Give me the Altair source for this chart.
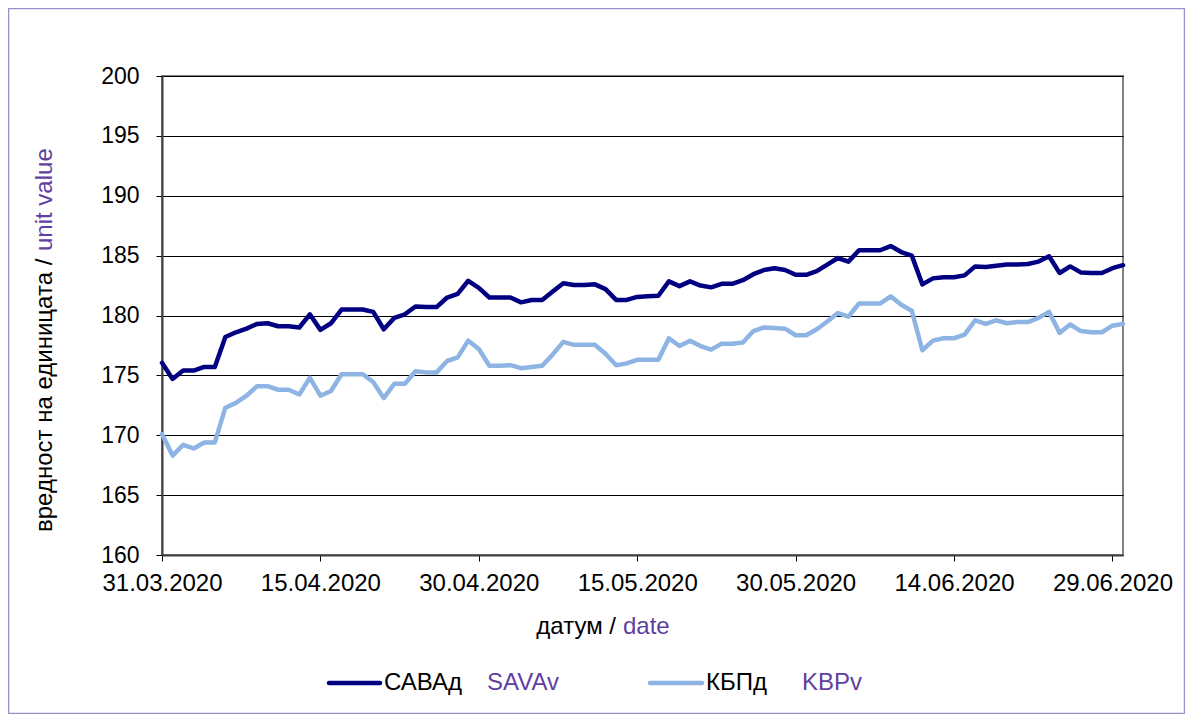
import altair as alt
import pandas as pd

# ---- data ----
START_DATE = "2020-03-31"
N_DAYS = 92
DATES = pd.date_range(START_DATE, periods=N_DAYS, freq="D").strftime("%Y-%m-%d").tolist()

SAVA = [176.05, 174.7, 175.4, 175.4, 175.7, 175.7, 178.2, 178.6, 178.9, 179.3,
        179.35, 179.1, 179.1, 179.0, 180.1, 178.8, 179.35, 180.5, 180.5, 180.5,
        180.3, 178.85, 179.8, 180.1, 180.75, 180.7, 180.7, 181.5, 181.8, 182.9,
        182.3, 181.5, 181.5, 181.5, 181.1, 181.3, 181.3, 182.0, 182.7, 182.55,
        182.55, 182.6, 182.2, 181.3, 181.3, 181.55, 181.6, 181.65, 182.85, 182.45,
        182.85, 182.5, 182.35, 182.65, 182.65, 182.95, 183.45, 183.8, 183.95, 183.8,
        183.4, 183.4, 183.7, 184.25, 184.8, 184.5, 185.45, 185.45, 185.45, 185.8,
        185.3, 185.0, 182.6, 183.1, 183.2, 183.2, 183.35, 184.1, 184.05, 184.15,
        184.25, 184.25, 184.3, 184.5, 184.95, 183.55, 184.1, 183.6, 183.55, 183.55,
        183.95, 184.2]

KBP = [170.1, 168.3, 169.2, 168.9, 169.4, 169.4, 172.3, 172.7, 173.3, 174.1,
       174.1, 173.8, 173.8, 173.4, 174.8, 173.3, 173.7, 175.1, 175.1, 175.1,
       174.45, 173.1, 174.3, 174.3, 175.35, 175.25, 175.25, 176.2, 176.5, 177.9,
       177.2, 175.8, 175.8, 175.85, 175.6, 175.7, 175.8, 176.75, 177.8, 177.55,
       177.55, 177.55, 176.8, 175.85, 176.0, 176.3, 176.3, 176.3, 178.1, 177.45,
       177.9, 177.45, 177.15, 177.65, 177.65, 177.75, 178.7, 179.0, 178.95, 178.9,
       178.35, 178.35, 178.85, 179.5, 180.2, 179.9, 181.0, 181.0, 181.0, 181.6,
       180.9, 180.4, 177.1, 177.9, 178.1, 178.1, 178.4, 179.6, 179.3, 179.6,
       179.35, 179.45, 179.45, 179.8, 180.3, 178.55, 179.25, 178.7, 178.6, 178.6,
       179.15, 179.3]

SERIES = ["САВАд", "КБПд"]
SERIES_EN = ["SAVAv", "KBPv"]
TICK_DATES = ["2020-03-31", "2020-04-15", "2020-04-30", "2020-05-15",
              "2020-05-30", "2020-06-14", "2020-06-29"]
Y_TICKS = [160, 165, 170, 175, 180, 185, 190, 195, 200]
X_TITLE = ["датум /", "date"]
Y_TITLE = ["вредност на единицата /", "unit value"]

# ---- styles ----
FONT = "Liberation Sans"
NAVY = "#000080"
LIGHT = "#8db4e3"
PURPLE = "#5f3f9f"
W, H = 961, 479

df = pd.DataFrame({
    "date": DATES * 2,
    "value": SAVA + KBP,
    "series": [SERIES[0]] * N_DAYS + [SERIES[1]] * N_DAYS,
})


def dt(s):
    y, m, d = map(int, s.split("-"))
    return alt.DateTime(year=y, month=m, date=d, utc=True)


x_enc = alt.X(
    "date:T",
    scale=alt.Scale(type="utc", domain=[dt(DATES[0]), dt(DATES[-1])], nice=False),
    axis=alt.Axis(values=[dt(t) for t in TICK_DATES],
                  labelExpr="utcFormat(datum.value, '%d.%m.%Y')",
                  title=None, grid=False, tickSize=6, tickColor="#000000",
                  domainColor="#404040", domainWidth=2,
                  labelFontSize=24, labelFont=FONT, labelColor="#000000",
                  labelPadding=10, labelOverlap=False, labelFlush=False),
)
y_enc = alt.Y(
    "value:Q",
    scale=alt.Scale(domain=[160, 200], nice=False, zero=False),
    axis=alt.Axis(values=Y_TICKS, title=None, grid=True, gridColor="#000000",
                  gridWidth=1, tickSize=6, tickColor="#000000",
                  domainColor="#404040", domainWidth=2,
                  labelFontSize=23, labelFont=FONT, labelColor="#000000",
                  labelPadding=17),
)

lines = alt.Chart(df).mark_line(strokeWidth=4.5, strokeJoin="round", strokeCap="round").encode(
    x=x_enc, y=y_enc,
    color=alt.Color("series:N", scale=alt.Scale(domain=SERIES, range=[NAVY, LIGHT]), legend=None),
    detail="series:N",
)

one = pd.DataFrame({"k": [0]})


def txt(text, x, y, color="#000000", align="left", angle=0, size=24):
    return alt.Chart(one).mark_text(
        text=text, align=align, baseline="middle", angle=angle,
        font=FONT, fontSize=size, color=color,
    ).encode(x=alt.value(x), y=alt.value(y))


def legline(x1, x2, y, color):
    return alt.Chart(one).mark_rule(strokeWidth=4.5, color=color, strokeCap="round").encode(
        x=alt.value(x1), x2=alt.value(x2), y=alt.value(y))


OX, OY = 162, 76  # page position of plot origin

border = alt.Chart(one).mark_rect(filled=False, stroke="#9e8cc8", strokeWidth=1.5).encode(
    x=alt.value(-153.5), x2=alt.value(1022.5), y=alt.value(-67.5), y2=alt.value(637.5))

layers = [
    border,
    lines,
    txt(X_TITLE[0], 616 - OX, 627 - OY, align="right"),
    txt(X_TITLE[1], 623 - OX, 627 - OY, color=PURPLE),
    txt(Y_TITLE[0], 45 - OX, 532 - OY, angle=270),
    txt(Y_TITLE[1], 45 - OX, 251 - OY, color=PURPLE, angle=270),
    legline(329 - OX, 380 - OX, 683 - OY, NAVY),
    txt(SERIES[0], 384 - OX, 683 - OY),
    txt(SERIES_EN[0], 487 - OX, 683 - OY, color=PURPLE),
    legline(650 - OX, 702 - OX, 683 - OY, LIGHT),
    txt(SERIES[1], 706 - OX, 683 - OY),
    txt(SERIES_EN[1], 802 - OX, 683 - OY, color=PURPLE),
]

chart = alt.layer(*layers).properties(
    width=W, height=H,
    autosize=alt.AutoSizeParams(type="none"),
    padding={"left": 154, "top": 68, "right": 62, "bottom": 159},
    background="#ffffff",
).configure_view(stroke="#808080", strokeWidth=2)

chart.save("out.html", embed_options={"renderer": "svg", "actions": False})
